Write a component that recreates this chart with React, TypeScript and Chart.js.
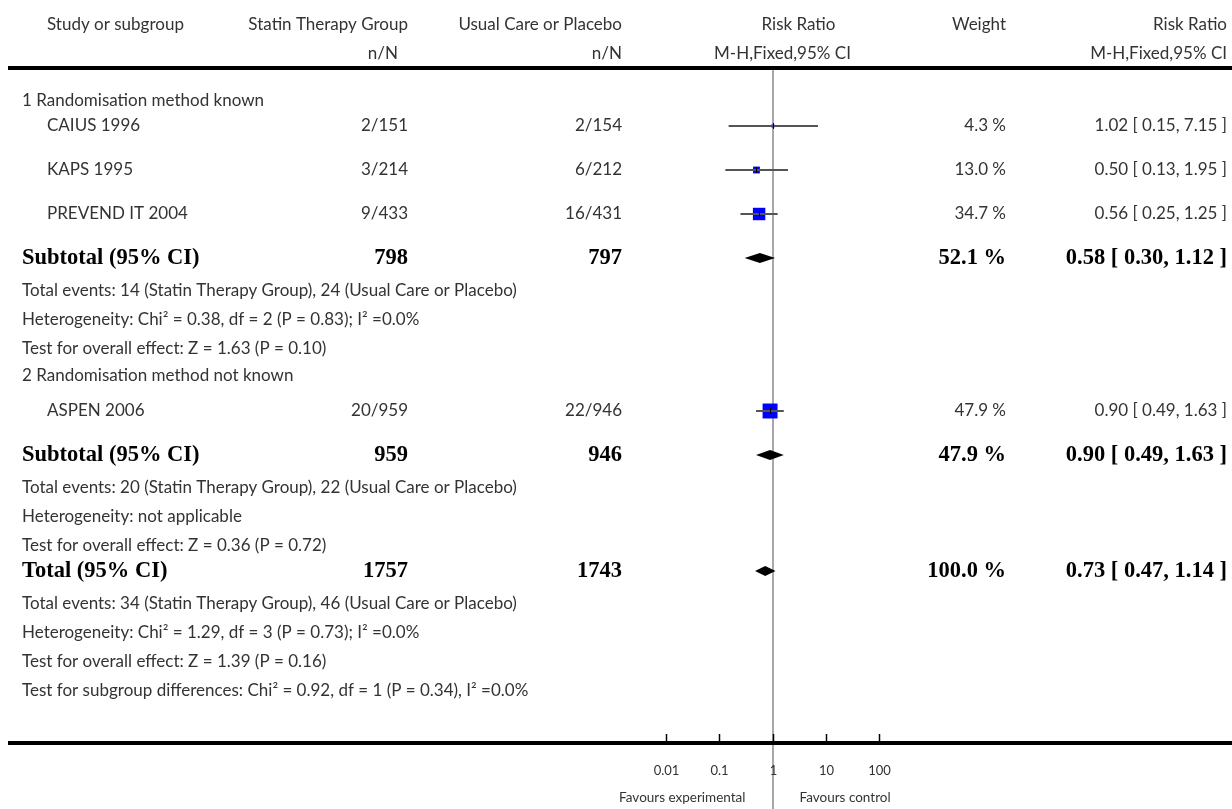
import React, { useEffect, useRef } from 'react';
import { Chart, registerables } from 'chart.js';

Chart.register(...registerables);

// ---------- data ----------
const groupNames = ['1 Randomisation method known', '2 Randomisation method not known'];
const studyNames = ['CAIUS 1996', 'KAPS 1995', 'PREVEND IT 2004', 'ASPEN 2006'];
const studyGroup = [0, 0, 0, 1];
const expEvents = [2, 3, 9, 20];
const expTotal = [151, 214, 433, 959];
const ctlEvents = [2, 6, 16, 22];
const ctlTotal = [154, 212, 431, 946];
const studyRR = [1.02, 0.5, 0.56, 0.9];
const studyLo = [0.15, 0.13, 0.25, 0.49];
const studyHi = [7.15, 1.95, 1.25, 1.63];
const studyWeight = [4.3, 13.0, 34.7, 47.9];

const subExpTotal = [798, 959];
const subCtlTotal = [797, 946];
const subWeight = [52.1, 47.9];
const subRR = [0.58, 0.9];
const subLo = [0.3, 0.49];
const subHi = [1.12, 1.63];
const subNotes = [
  [
    'Total events: 14 (Statin Therapy Group), 24 (Usual Care or Placebo)',
    'Heterogeneity: Chi\u00B2 = 0.38, df = 2 (P = 0.83); I\u00B2 =0.0%',
    'Test for overall effect: Z = 1.63 (P = 0.10)',
  ],
  [
    'Total events: 20 (Statin Therapy Group), 22 (Usual Care or Placebo)',
    'Heterogeneity: not applicable',
    'Test for overall effect: Z = 0.36 (P = 0.72)',
  ],
];

const totalExp = 1757;
const totalCtl = 1743;
const totalWeight = 100.0;
const totalRR = 0.73;
const totalLo = 0.47;
const totalHi = 1.14;
const totalNotes = [
  'Total events: 34 (Statin Therapy Group), 46 (Usual Care or Placebo)',
  'Heterogeneity: Chi\u00B2 = 1.29, df = 3 (P = 0.73); I\u00B2 =0.0%',
  'Test for overall effect: Z = 1.39 (P = 0.16)',
  'Test for subgroup differences: Chi\u00B2 = 0.92, df = 1 (P = 0.34), I\u00B2 =0.0%',
];

const tickValues = [0.01, 0.1, 1, 10, 100];
const tickLabels = ['0.01', '0.1', '1', '10', '100'];
const favoursLeft = 'Favours experimental';
const favoursRight = 'Favours control';

// ---------- layout ----------
const W = 1232;
const H = 809;
const HEADER_Y = 68;
const BOTTOM_Y = 742;
const PLOT_LEFT = 666;
const PLOT_RIGHT = 879;
// vertical offsets (px below header rule) of each row in order
const ROW_OFFSETS = [33, 58, 102, 146, 190, 223, 252, 281, 308, 343, 387, 420, 449, 478, 503, 536, 565, 594, 623];

const COL_NAME_STUDY = 47;
const COL_NAME_LEFT = 22;
const COL_EXP = 408;
const COL_EXP_HDR2 = 398;
const COL_CTL = 622;
const COL_WEIGHT = 1006;
const COL_CI = 1227;

const NORMAL = '17px Lato';
const BOLD = 'bold 22.5px "Liberation Serif"';
const AXIS = '13px Lato';
const FAV = '13.5px Lato';
const TEXT = '#333';

type Row =
  | { kind: 'group'; text: string }
  | { kind: 'study'; i: number }
  | { kind: 'subtotal'; g: number }
  | { kind: 'note'; text: string }
  | { kind: 'total' };

function buildRows(): Row[] {
  const rows: Row[] = [];
  groupNames.forEach((name, g) => {
    rows.push({ kind: 'group', text: name });
    studyNames.forEach((_, i) => {
      if (studyGroup[i] === g) rows.push({ kind: 'study', i });
    });
    rows.push({ kind: 'subtotal', g });
    subNotes[g].forEach((t) => rows.push({ kind: 'note', text: t }));
  });
  rows.push({ kind: 'total' });
  totalNotes.forEach((t) => rows.push({ kind: 'note', text: t }));
  return rows;
}

const fmt2 = (v: number) => v.toFixed(2);
const ciText = (e: number, l: number, h: number) => `${fmt2(e)} [ ${fmt2(l)}, ${fmt2(h)} ]`;

export default function App() {
  const ref = useRef<HTMLCanvasElement>(null);

  useEffect(() => {
    const rows = buildRows();
    const rowY = rows.map((_, k) => ROW_OFFSETS[k]);
    const studyRowY: number[] = [];
    const subRowY: number[] = [];
    let totalRowY = 0;
    rows.forEach((r, k) => {
      if (r.kind === 'study') studyRowY[r.i] = rowY[k];
      if (r.kind === 'subtotal') subRowY[r.g] = rowY[k];
      if (r.kind === 'total') totalRowY = rowY[k];
    });

    const text = (
      ctx: CanvasRenderingContext2D,
      s: string,
      x: number,
      y: number,
      align: CanvasTextAlign,
      font: string,
      color = TEXT
    ) => {
      ctx.font = font;
      ctx.fillStyle = color;
      ctx.textAlign = align;
      ctx.textBaseline = 'middle';
      ctx.fillText(s, x, y);
    };

    const forestPlugin = {
      id: 'forest',
      beforeDatasetsDraw(chart: any) {
        const ctx: CanvasRenderingContext2D = chart.ctx;
        const xs = chart.scales.x;
        const x1 = Math.round(xs.getPixelForValue(1));
        ctx.save();
        ctx.strokeStyle = '#a8a8a8';
        ctx.lineWidth = 2;
        ctx.beginPath();
        ctx.moveTo(x1, chart.chartArea.top);
        ctx.lineTo(x1, chart.height);
        ctx.stroke();
        ctx.restore();
      },
      afterDatasetsDraw(chart: any) {
        const ctx: CanvasRenderingContext2D = chart.ctx;
        const xs = chart.scales.x;
        const ys = chart.scales.y;
        const { top, bottom } = chart.chartArea;
        ctx.save();

        // CI lines for studies
        studyNames.forEach((_, i) => {
          const y = Math.round(ys.getPixelForValue(studyRowY[i]));
          ctx.strokeStyle = '#555';
          ctx.lineWidth = 2;
          ctx.beginPath();
          ctx.moveTo(xs.getPixelForValue(studyLo[i]), y);
          ctx.lineTo(xs.getPixelForValue(studyHi[i]), y);
          ctx.stroke();
          const xe = Math.round(xs.getPixelForValue(studyRR[i])) + 0.5;
          ctx.strokeStyle = '#000';
          ctx.lineWidth = 1;
          ctx.beginPath();
          ctx.moveTo(xe, y - 3);
          ctx.lineTo(xe, y + 3);
          ctx.stroke();
        });

        // diamonds
        const diamond = (est: number, lo: number, hi: number, yv: number) => {
          const y = ys.getPixelForValue(yv);
          const xl = xs.getPixelForValue(lo);
          const xh = xs.getPixelForValue(hi);
          const xe = xs.getPixelForValue(est);
          ctx.fillStyle = '#000';
          ctx.beginPath();
          ctx.moveTo(xl, y);
          ctx.lineTo(xe, y - 5);
          ctx.lineTo(xh, y);
          ctx.lineTo(xe, y + 5);
          ctx.closePath();
          ctx.fill();
        };
        subRR.forEach((e, g) => diamond(e, subLo[g], subHi[g], subRowY[g]));
        diamond(totalRR, totalLo, totalHi, totalRowY);

        // rules
        ctx.fillStyle = '#000';
        ctx.fillRect(8, top - 2, W - 8, 4);
        ctx.fillRect(8, bottom - 1, W - 8, 4);

        // axis ticks and labels
        ctx.strokeStyle = '#000';
        ctx.lineWidth = 1.5;
        tickValues.forEach((v, k) => {
          const x = Math.round(xs.getPixelForValue(v)) + 0.5;
          ctx.beginPath();
          ctx.moveTo(x, bottom - 8);
          ctx.lineTo(x, bottom);
          ctx.stroke();
          text(ctx, tickLabels[k], x, bottom + 29, 'center', AXIS);
        });
        const x1 = xs.getPixelForValue(1);
        text(ctx, favoursLeft, x1 - 27, bottom + 56, 'right', FAV);
        text(ctx, favoursRight, x1 + 27, bottom + 56, 'left', FAV);

        // header
        const hy1 = 25;
        const hy2 = 54;
        text(ctx, 'Study or subgroup', COL_NAME_STUDY, hy1, 'left', NORMAL);
        text(ctx, 'Statin Therapy Group', COL_EXP, hy1, 'right', NORMAL);
        text(ctx, 'n/N', COL_EXP_HDR2, hy2, 'right', NORMAL);
        text(ctx, 'Usual Care or Placebo', COL_CTL, hy1, 'right', NORMAL);
        text(ctx, 'n/N', COL_CTL, hy2, 'right', NORMAL);
        text(ctx, 'Risk Ratio', x1 + 26, hy1, 'center', NORMAL);
        text(ctx, 'M-H,Fixed,95% CI', x1 + 10, hy2, 'center', NORMAL);
        text(ctx, 'Weight', COL_WEIGHT, hy1, 'right', NORMAL);
        text(ctx, 'Risk Ratio', COL_CI, hy1, 'right', NORMAL);
        text(ctx, 'M-H,Fixed,95% CI', COL_CI, hy2, 'right', NORMAL);

        // body rows
        rows.forEach((r, k) => {
          const y = ys.getPixelForValue(rowY[k]);
          if (r.kind === 'group' || r.kind === 'note') {
            text(ctx, r.text, COL_NAME_LEFT, y, 'left', NORMAL);
          } else if (r.kind === 'study') {
            const i = r.i;
            text(ctx, studyNames[i], COL_NAME_STUDY, y, 'left', NORMAL);
            text(ctx, `${expEvents[i]}/${expTotal[i]}`, COL_EXP, y, 'right', NORMAL);
            text(ctx, `${ctlEvents[i]}/${ctlTotal[i]}`, COL_CTL, y, 'right', NORMAL);
            text(ctx, `${studyWeight[i].toFixed(1)} %`, COL_WEIGHT, y, 'right', NORMAL);
            text(ctx, ciText(studyRR[i], studyLo[i], studyHi[i]), COL_CI, y, 'right', NORMAL);
          } else if (r.kind === 'subtotal') {
            const g = r.g;
            text(ctx, 'Subtotal (95% CI)', COL_NAME_LEFT, y, 'left', BOLD, '#000');
            text(ctx, String(subExpTotal[g]), COL_EXP, y, 'right', BOLD, '#000');
            text(ctx, String(subCtlTotal[g]), COL_CTL, y, 'right', BOLD, '#000');
            text(ctx, `${subWeight[g].toFixed(1)} %`, COL_WEIGHT, y, 'right', BOLD, '#000');
            text(ctx, ciText(subRR[g], subLo[g], subHi[g]), COL_CI, y, 'right', BOLD, '#000');
          } else if (r.kind === 'total') {
            text(ctx, 'Total (95% CI)', COL_NAME_LEFT, y, 'left', BOLD, '#000');
            text(ctx, String(totalExp), COL_EXP, y, 'right', BOLD, '#000');
            text(ctx, String(totalCtl), COL_CTL, y, 'right', BOLD, '#000');
            text(ctx, `${totalWeight.toFixed(1)} %`, COL_WEIGHT, y, 'right', BOLD, '#000');
            text(ctx, ciText(totalRR, totalLo, totalHi), COL_CI, y, 'right', BOLD, '#000');
          }
        });
        ctx.restore();
      },
    };

    // square side grows with the square root of the study weight
    const radius = (w: number) => Math.max(1, 2.45 * Math.sqrt(w) - 2) / Math.SQRT2;

    const chart = new Chart(ref.current as HTMLCanvasElement, {
      type: 'scatter',
      data: {
        datasets: [
          {
            label: 'Studies',
            data: studyNames.map((_, i) => ({ x: studyRR[i], y: studyRowY[i] })),
            pointStyle: 'rect',
            pointRadius: studyWeight.map(radius),
            pointHoverRadius: studyWeight.map(radius),
            pointBackgroundColor: '#0000ff',
            pointBorderWidth: 0,
            borderWidth: 0,
          } as any,
        ],
      },
      options: {
        responsive: false,
        maintainAspectRatio: false,
        animation: false,
        devicePixelRatio: 1,
        events: [],
        layout: {
          padding: { left: PLOT_LEFT, right: W - PLOT_RIGHT, top: HEADER_Y, bottom: H - BOTTOM_Y },
        },
        plugins: { legend: { display: false }, tooltip: { enabled: false } },
        scales: {
          x: { type: 'logarithmic', min: 0.01, max: 100, display: false },
          y: { type: 'linear', min: 0, max: BOTTOM_Y - HEADER_Y, reverse: true, display: false },
        },
      },
      plugins: [forestPlugin],
    });
    return () => chart.destroy();
  }, []);

  return (
    <div style={{ position: 'absolute', left: 0, top: 0, width: W, height: H, background: '#fff' }}>
      <canvas ref={ref} width={W} height={H} style={{ width: W, height: H, display: 'block' }} />
    </div>
  );
}
